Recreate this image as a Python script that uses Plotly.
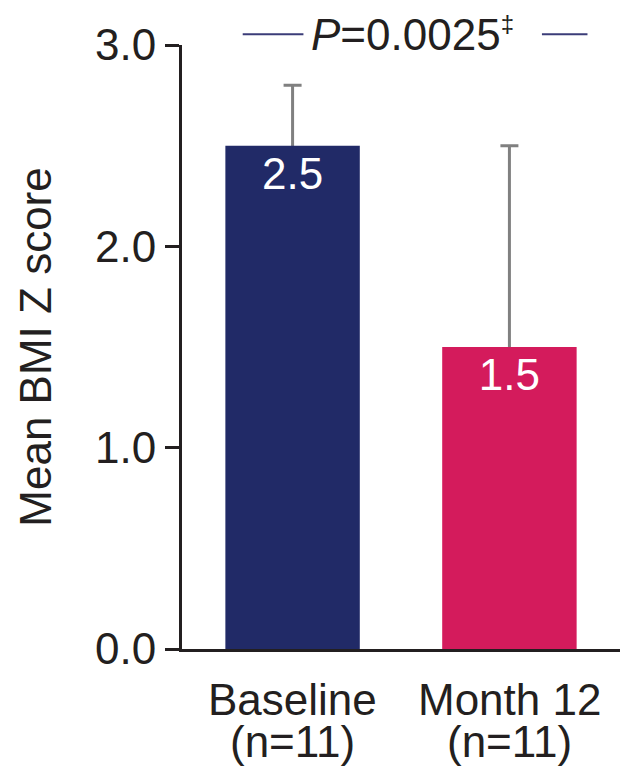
import plotly.graph_objects as go

# Mean BMI Z score at baseline and month 12
categories = ["Baseline", "Month 12"]
group_sizes = ["(n=11)", "(n=11)"]
means = [2.5, 1.5]
err_upper = [0.3, 1.0]
bar_colors = ["#212a67", "#d41b5c"]
y_ticks = [0.0, 1.0, 2.0, 3.0]
p_label = "<i>P</i>=0.0025<sup><span style='font-size:24px'>‡</span></sup>"

FONT = "Liberation Sans, Arial, sans-serif"
INK = "#231f20"

fig = go.Figure()

# upper SD whiskers: drawn first so the bars cover their lower half
fig.add_trace(
    go.Bar(
        x=categories,
        y=means,
        width=0.62,
        marker=dict(color="rgba(0,0,0,0)", line=dict(width=0)),
        error_y=dict(
            type="data",
            symmetric=True,
            array=err_upper,
            color="#808080",
            thickness=3,
            width=9,
        ),
        hoverinfo="skip",
    )
)

fig.add_trace(
    go.Bar(
        x=categories,
        y=means,
        width=0.62,
        marker=dict(color=bar_colors, line=dict(width=0)),
        text=[f"{v:.1f}" for v in means],
        textposition="inside",
        insidetextanchor="end",
        textangle=0,
        textfont=dict(family=FONT, size=44, color="white"),
    )
)

# two-line category labels with tight leading
for cat, n in zip(categories, group_sizes):
    fig.add_annotation(x=cat, xref="x", y=-0.083, yref="paper", text=cat, showarrow=False,
                       font=dict(family=FONT, size=44, color=INK), xanchor="center", yanchor="middle")
    fig.add_annotation(x=cat, xref="x", y=-0.153, yref="paper", text=n, showarrow=False,
                       font=dict(family=FONT, size=44, color=INK), xanchor="center", yanchor="middle")

# significance bracket above the bars
fig.add_shape(type="line", xref="x", yref="paper", x0=-0.23, x1=0.05, y0=1.018, y1=1.018,
              line=dict(color="#3b3c78", width=2))
fig.add_shape(type="line", xref="x", yref="paper", x0=1.15, x1=1.36, y0=1.018, y1=1.018,
              line=dict(color="#3b3c78", width=2))
fig.add_annotation(x=0.075, xref="x", y=1.018, yref="paper", text=p_label, showarrow=False,
                   font=dict(family=FONT, size=44, color=INK), xanchor="left", yanchor="middle")

fig.update_layout(
    width=620,
    height=773,
    margin=dict(l=182, r=0, t=45, b=124),
    paper_bgcolor="white",
    plot_bgcolor="white",
    showlegend=False,
    font=dict(family=FONT, size=44, color=INK),
    barmode="overlay",
)
fig.update_xaxes(
    range=[-0.51, 1.51],
    automargin=False,
    showline=True,
    linecolor=INK,
    linewidth=3,
    ticks="",
    showgrid=False,
    showticklabels=False,
)
fig.update_yaxes(
    range=[0, 3],
    automargin=False,
    tickvals=y_ticks,
    ticktext=[f"{t:.1f}" for t in y_ticks],
    showline=True,
    linecolor=INK,
    linewidth=3,
    ticks="outside",
    ticklen=14,
    tickwidth=3,
    tickcolor=INK,
    showgrid=False,
    zeroline=False,
    tickfont=dict(family=FONT, size=44, color=INK),
    title=dict(text="Mean BMI Z score", font=dict(family=FONT, size=44, color=INK), standoff=30),
)

fig.write_html("out.html")
